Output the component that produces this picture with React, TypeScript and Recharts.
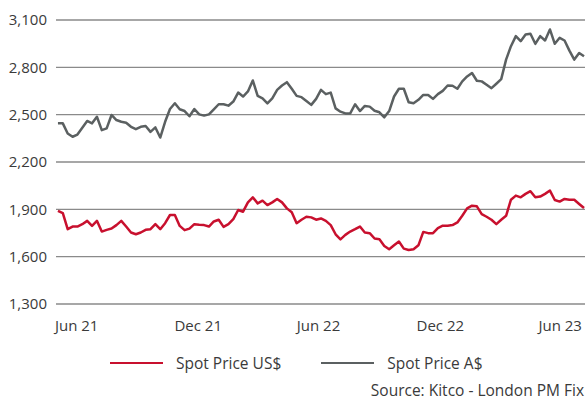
import React from "react";
import { LineChart, Line, XAxis, YAxis, CartesianGrid } from "recharts";

const usd: number[] = [
  1891, 1876, 1774, 1791, 1791, 1806, 1827, 1795, 1827, 1759,
  1770, 1778, 1800, 1827, 1791, 1753, 1742, 1753, 1770, 1774,
  1806, 1774, 1812, 1864, 1864, 1795, 1768, 1778,
  1806, 1802, 1800, 1791, 1823, 1834, 1789, 1806, 1838, 1896,
  1885, 1944, 1976, 1938, 1955, 1927, 1944, 1966, 1944, 1906,
  1881, 1812, 1834, 1853, 1849, 1834, 1842,
  1827, 1800, 1742, 1710, 1738, 1759, 1774, 1791, 1753, 1749,
  1715, 1710, 1668, 1647, 1672, 1696, 1651, 1642, 1647, 1672,
  1757, 1749, 1749, 1781, 1796, 1796, 1800, 1817,
  1859, 1906, 1923, 1919, 1870, 1853, 1834, 1806, 1834, 1859,
  1961, 1987, 1976, 1998, 2015, 1976, 1981, 1998, 2019, 1959,
  1949, 1966, 1961, 1961, 1934, 1908,
];

const aud: number[] = [
  2445, 2445, 2381, 2360, 2374, 2417, 2460, 2445, 2487, 2402,
  2413, 2498, 2466, 2455, 2449, 2423, 2408, 2423, 2428, 2391,
  2419, 2355, 2455, 2536, 2572, 2534, 2523, 2490,
  2536, 2502, 2494, 2502, 2534, 2566, 2566, 2557, 2583, 2640,
  2615, 2647, 2717, 2619, 2604, 2572, 2604, 2657, 2685, 2706,
  2664, 2619, 2611, 2587, 2562, 2600, 2657,
  2630, 2640, 2540, 2519, 2508, 2508, 2566, 2523, 2555, 2551,
  2525, 2515, 2483, 2523, 2615, 2664, 2664, 2579, 2572, 2594,
  2625, 2625, 2600, 2630, 2651, 2685, 2683, 2664,
  2711, 2742, 2764, 2715, 2711, 2689, 2668, 2696, 2725, 2849,
  2934, 2998, 2966, 3008, 3013, 2949, 2998, 2970, 3040, 2949,
  2987, 2970, 2906, 2849, 2891, 2870,
];

const tickIndex: number[] = [3.85, 28.8, 53.5, 78.5, 103.1];
const tickLabels: string[] = ["Jun 21", "Dec 21", "Jun 22", "Dec 22", "Jun 23"];
const yTicks: number[] = [1300, 1600, 1900, 2200, 2500, 2800, 3100];

const seriesNames = { usd: "Spot Price US$", aud: "Spot Price A$" };
const sourceText = "Source: Kitco - London PM Fix";

const RED = "#c8102e";
const GREY = "#5b6061";
const TEXT = "#3a3a3a";
const FONT = "'Open Sans', sans-serif";

const data = usd.map((u, i) => ({ i, usd: u, aud: aud[i] }));

const fmt = (v: number) => v.toLocaleString("en-US");

export default function App() {
  return (
    <div style={{ position: "absolute", left: 0, top: 0, width: 587, height: 401, fontFamily: FONT, background: "#fff", overflow: "hidden" }}>
      <LineChart width={587} height={401} data={data} margin={{ top: 20, right: 2, left: 0, bottom: 67 }}>
        <CartesianGrid horizontal={true} vertical={false} stroke="#8a8a8a" strokeWidth={1.3} />
        <XAxis
          dataKey="i"
          type="number"
          domain={[-0.4, 108.2]}
          ticks={tickIndex}
          tickFormatter={(v: number) => tickLabels[tickIndex.indexOf(v)] ?? ""}
          axisLine={false}
          tickLine={false}
          tickSize={0}
          tickMargin={16}
          height={30}
          interval={0}
          tick={{ fill: TEXT, fontSize: 15, fontFamily: FONT }}
        />
        <YAxis
          domain={[1300, 3100]}
          ticks={yTicks}
          tickFormatter={fmt}
          axisLine={false}
          tickLine={false}
          tickSize={0}
          tickMargin={9}
          width={56}
          interval={0}
          tick={{ fill: TEXT, fontSize: 15, fontFamily: FONT }}
        />
        <Line dataKey="aud" name={seriesNames.aud} stroke={GREY} strokeWidth={2.5} dot={false} isAnimationActive={false} strokeLinejoin="round" />
        <Line dataKey="usd" name={seriesNames.usd} stroke={RED} strokeWidth={2.5} dot={false} isAnimationActive={false} strokeLinejoin="round" />
      </LineChart>
      <div style={{ position: "absolute", left: 110, top: 351, height: 24, display: "flex", alignItems: "center", fontSize: 15.5, color: TEXT, whiteSpace: "nowrap" }}>
        <span style={{ display: "inline-block", width: 53, height: 2.5, background: RED, marginRight: 13 }} />
        <span>{seriesNames.usd}</span>
        <span style={{ display: "inline-block", width: 53, height: 2.5, background: GREY, marginLeft: 40, marginRight: 13 }} />
        <span>{seriesNames.aud}</span>
      </div>
      <div style={{ position: "absolute", right: 3, top: 380, fontSize: 15.5, lineHeight: "20px", color: TEXT, whiteSpace: "nowrap" }}>
        {sourceText}
      </div>
    </div>
  );
}
